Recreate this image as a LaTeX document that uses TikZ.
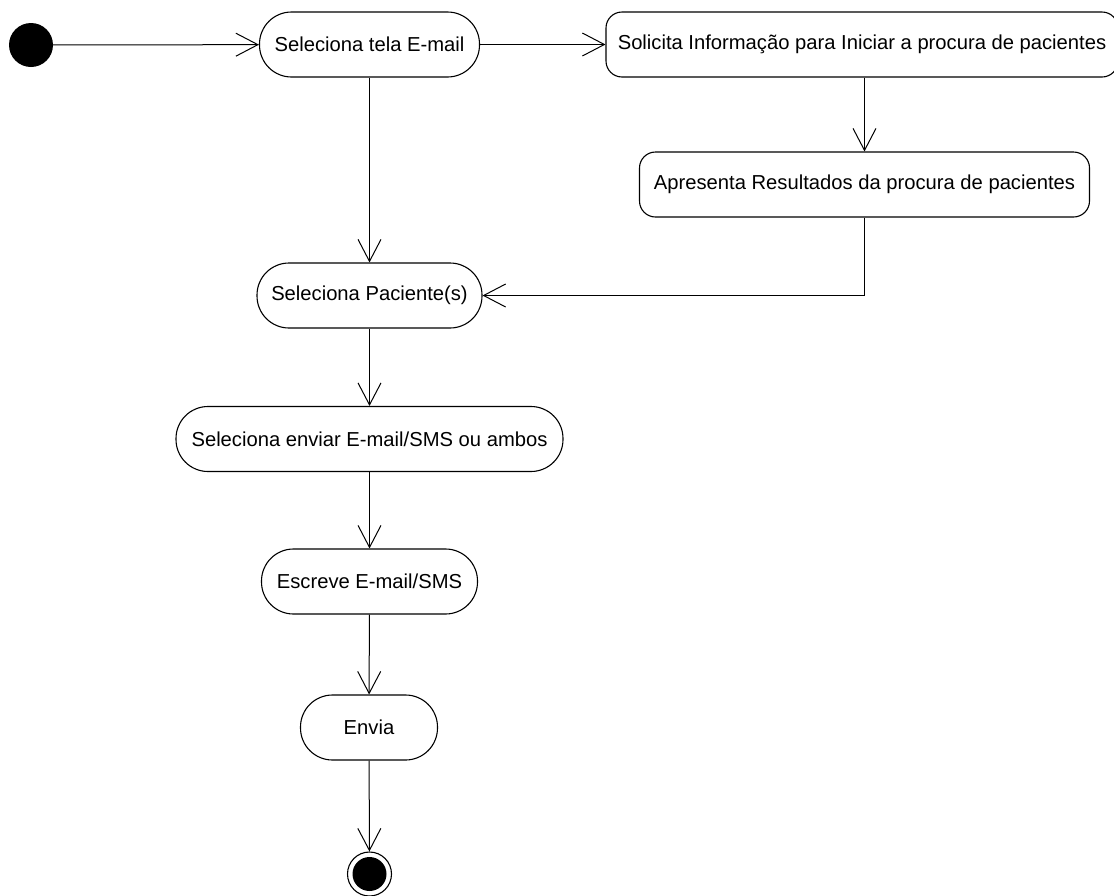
\documentclass[tikz,border=0pt]{standalone}
\usepackage{fontspec}
\setmainfont{Liberation Sans}
\usetikzlibrary{arrows.meta}
\begin{document}
\begin{tikzpicture}[x=1pt,y=-1pt,
  act/.style={draw, line width=1.1pt, rectangle, inner sep=0pt, minimum height=65pt,
    rounded corners=32pt, font=\fontsize{20.2}{22}\selectfont},
  actbox/.style={act, rounded corners=16pt},
  flow/.style={draw, line width=1pt, -{Straight Barb[length=22pt,width=23pt,line width=1pt]}}
]
\useasboundingbox (0,0) rectangle (1114,895);
% start and end states
\node[circle, fill=black, minimum size=44pt, inner sep=0pt] (start) at (31,45) {};
\node[circle, draw, line width=1.1pt, minimum size=44pt, inner sep=0pt] (fin) at (369.5,874) {};
\fill[black] (fin.center) circle (17pt);
% activities
\node[act, minimum width=220pt] (tela) at (369.5,44.5) {Seleciona tela E-mail};
\node[actbox, minimum width=512pt] (solicita) at (862,44.5) {Solicita Informação para Iniciar a procura de pacientes};
\node[actbox, minimum width=450pt] (apresenta) at (864.5,184.5) {Apresenta Resultados da procura de pacientes};
\node[act, minimum width=225pt] (paciente) at (369.5,295.5) {Seleciona Paciente(s)};
\node[act, minimum width=387pt] (enviar) at (369.5,439) {Seleciona enviar E-mail/SMS ou ambos};
\node[act, minimum width=216pt] (escreve) at (369.5,581.5) {Escreve E-mail/SMS};
\node[act, minimum width=137pt] (envia) at (369,727.5) {Envia};
% transitions
\draw[flow] (start) -- (tela);
\draw[flow] (tela) -- (solicita);
\draw[flow] (solicita.south -| apresenta.north) -- (apresenta.north);
\draw[flow] (tela) -- (paciente);
\draw[flow] (apresenta.south) |- (paciente.east);
\draw[flow] (paciente) -- (enviar);
\draw[flow] (enviar) -- (escreve);
\draw[flow] (escreve) -- (envia);
\draw[flow] (envia) -- (fin);
\end{tikzpicture}
\end{document}
